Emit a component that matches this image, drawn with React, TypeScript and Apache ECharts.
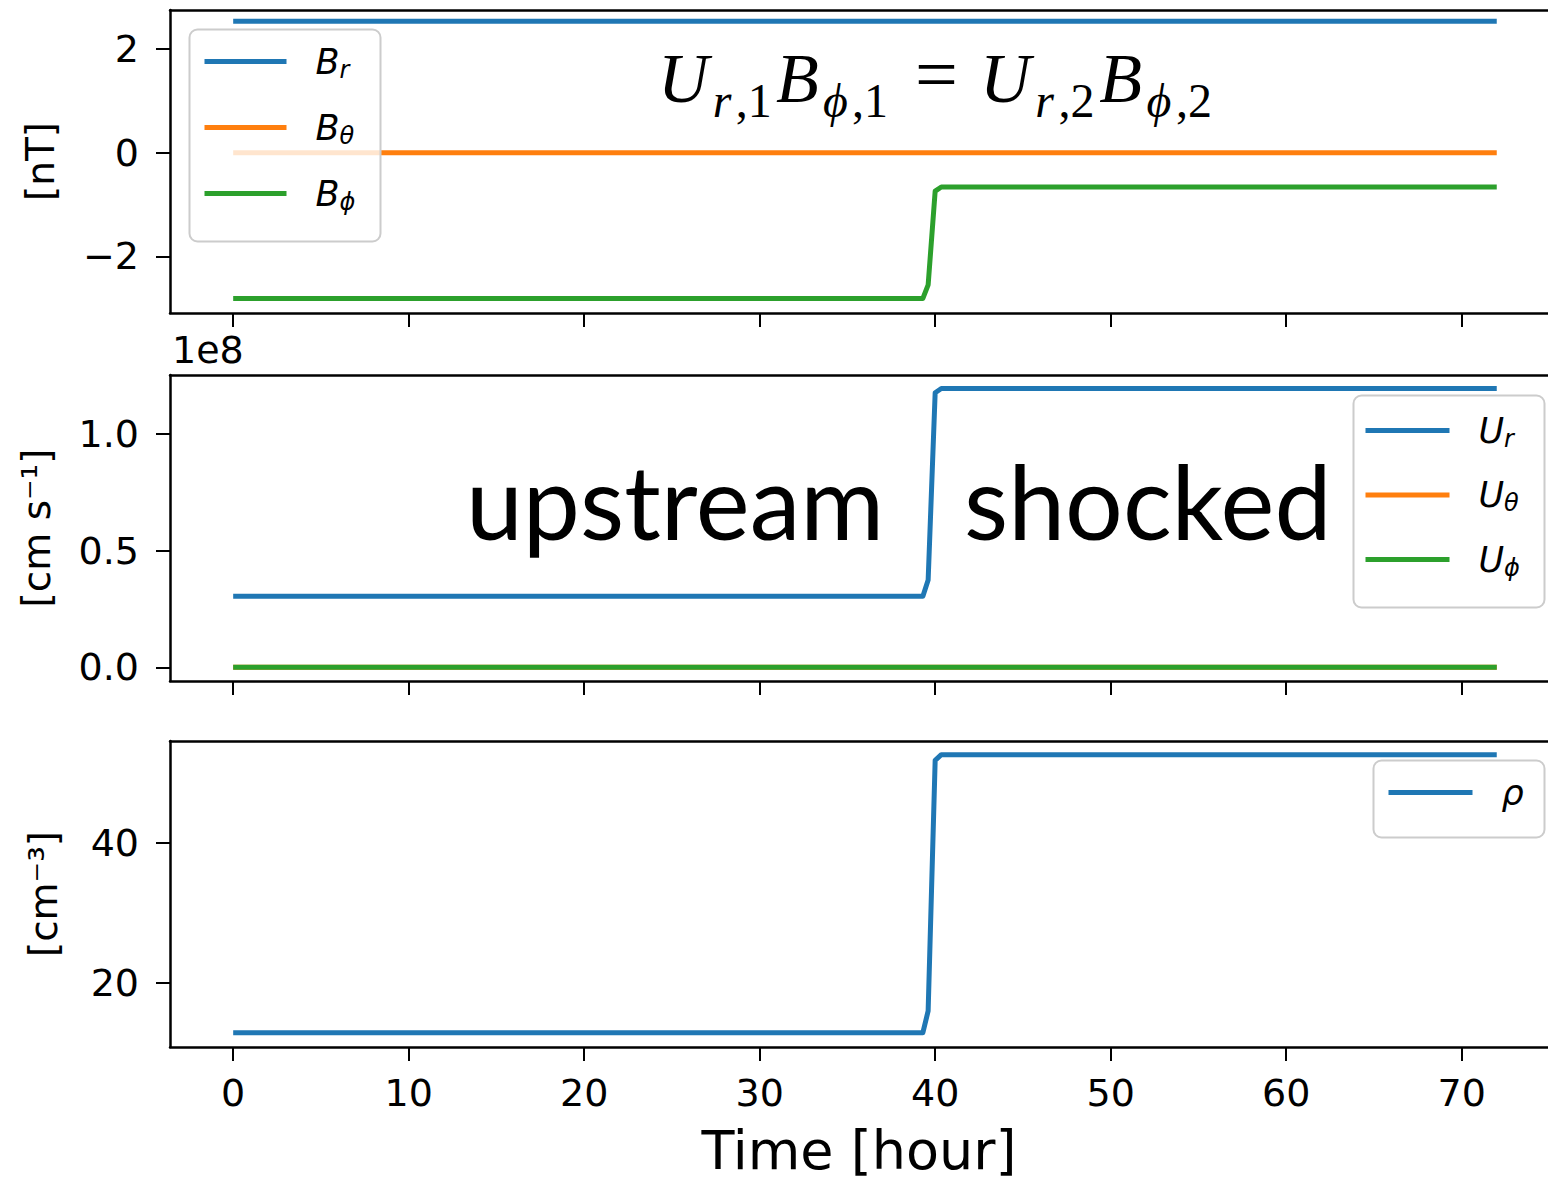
import React, { useEffect, useRef } from "react";
import * as echarts from "echarts";

// ---- data ----
const hours = [0, 39.3, 39.6, 40.0, 40.35, 72];
const Br = [2.54, 2.54, 2.54, 2.54, 2.54, 2.54];
const Btheta = [0, 0, 0, 0, 0, 0];
const Bphi = [-2.81, -2.81, -2.55, -0.74, -0.66, -0.66];
const Ur = [3.05e7, 3.05e7, 3.74e7, 1.177e8, 1.195e8, 1.195e8];
const Utheta = [0, 0, 0, 0, 0, 0];
const Uphi = [0, 0, 0, 0, 0, 0];
const rho = [12.96, 12.96, 16.05, 51.69, 52.5, 52.5];

const xTicks = [0, 10, 20, 30, 40, 50, 60, 70];
const bTicks = [-2, 0, 2];
const uTicks = [0, 5e7, 1e8];
const rhoTicks = [20, 40];

const legendLabels: Record<string, string> = {
  Br: "{b|B}{s|r}",
  Btheta: "{b|B}{s|θ}",
  Bphi: "{b|B}{s|ϕ}",
  Ur: "{b|U}{s|r}",
  Utheta: "{b|U}{s|θ}",
  Uphi: "{b|U}{s|ϕ}",
  rho: "{b|ρ}",
};

const BLUE = "#1f77b4";
const ORANGE = "#ff7f0e";
const GREEN = "#2ca02c";

const zip = (ys: number[]) => hours.map((t, i) => [t, ys[i]]);

const FONT = "DejaVu Sans";
const TICK_FS = 38;

function minusFmt(v: number) {
  return v < 0 ? "\u2212" + Math.abs(v) : String(v);
}

// formula pieces: [text, kind]  kind: M = main italic, s = sub italic, d = sub upright
const formulaLeft: [string, string][] = [["U", "M"], ["r", "s"], [",1", "d"], ["B", "M"], ["ϕ", "s"], [",1", "d"]];
const formulaRight: [string, string][] = [["U", "M"], ["r", "s"], [",2", "d"], ["B", "M"], ["ϕ", "s"], [",2", "d"]];

export default function App() {
  const ref = useRef<HTMLDivElement>(null);
  useEffect(() => {
    if (!ref.current) return;
    const chart = echarts.init(ref.current, undefined, { renderer: "svg" });

    const gridTops = [10, 375, 741];
    const gridHeights = [303, 306, 306];

    const grids = gridTops.map((top, i) => ({
      left: 170,
      top,
      right: 0,
      height: gridHeights[i],
      show: false,
      containLabel: false,
    }));

    const XMIN = -3.6;
    const XMAX = 74.92;
    const axisLine = { show: true, onZero: false, lineStyle: { color: "#000", width: 2.5 } };

    const xAxes: any[] = [0, 1, 2].map((i) => ({
      type: "value",
      gridIndex: i,
      min: XMIN,
      max: XMAX,
      position: "bottom",
      axisLine,
      splitLine: { show: false },
      axisTick: {
        show: true,
        customValues: xTicks,
        length: 14,
        lineStyle: { color: "#000", width: 2 },
      },
      axisLabel: {
        show: i === 2,
        customValues: xTicks,
        margin: 27,
        fontFamily: FONT,
        fontSize: TICK_FS,
        color: "#000",
      },
      name: i === 2 ? "Time [hour]" : "",
      nameLocation: "middle",
      nameGap: 76,
      nameTextStyle: { fontFamily: FONT, fontSize: 54, color: "#000" },
    }));
    // top spines
    [0, 1, 2].forEach((i) => {
      xAxes.push({
        type: "value",
        gridIndex: i,
        min: XMIN,
        max: XMAX,
        position: "top",
        axisLine,
        splitLine: { show: false },
        axisTick: { show: false },
        axisLabel: { show: false },
      });
    });

    const yCommon = (i: number, min: number, max: number, ticks: number[], fmt: (v: number) => string, name: string, nameGap: number) => ({
      type: "value",
      gridIndex: i,
      min,
      max,
      axisLine,
      splitLine: { show: false },
      axisTick: {
        show: true,
        customValues: ticks,
        length: 14,
        lineStyle: { color: "#000", width: 2 },
      },
      axisLabel: {
        customValues: ticks,
        margin: 31,
        fontFamily: FONT,
        fontSize: TICK_FS,
        color: "#000",
        formatter: fmt,
      },
      name,
      nameLocation: "middle",
      nameGap,
      nameTextStyle: { fontFamily: FONT, fontSize: 39, color: "#000" },
    });

    const yAxes = [
      yCommon(0, -3.092, 2.757, bTicks, minusFmt, "[nT]", 110),
      yCommon(1, -5.87e6, 1.253e8, uTicks, (v: number) => (v / 1e8).toFixed(1), "[cm s\u207B\u00B9]", 114),
      yCommon(2, 10.92, 54.44, rhoTicks, (v: number) => String(v), "[cm\u207B\u00B3]", 107),
    ];

    const mk = (name: string, ys: number[], color: string, idx: number) => ({
      type: "line",
      name,
      xAxisIndex: idx,
      yAxisIndex: idx,
      data: zip(ys),
      symbol: "none",
      showSymbol: false,
      color,
      lineStyle: { color, width: 5, cap: "butt", join: "round" },
      z: 2,
    });

    const series = [
      mk("Br", Br, BLUE, 0),
      mk("Btheta", Btheta, ORANGE, 0),
      mk("Bphi", Bphi, GREEN, 0),
      mk("Ur", Ur, BLUE, 1),
      mk("Utheta", Utheta, ORANGE, 1),
      mk("Uphi", Uphi, GREEN, 1),
      mk("rho", rho, BLUE, 2),
    ];

    const richLegend = {
      g: { width: 24, fontSize: 10, lineHeight: 40 },
      b: { fontFamily: FONT, fontStyle: "italic", fontSize: 35, lineHeight: 40, color: "#000" },
      s: { fontFamily: FONT, fontStyle: "italic", fontSize: 24, lineHeight: 18, verticalAlign: "bottom", color: "#000" },
    };

    const legendBase = (data: string[], left: number, top: number, itemWidth: number, itemGap: number) => ({
      data,
      orient: "vertical",
      left,
      top,
      padding: 0,
      itemWidth,
      itemHeight: 14,
      itemGap,
      selectedMode: false,
      z: 4,
      formatter: (n: string) => "{g| }" + legendLabels[n],
      textStyle: { rich: richLegend },
      itemStyle: { opacity: 0 },
      lineStyle: { width: 5 },
    });

    const legends = [
      legendBase(["Br", "Btheta", "Bphi"], 202, 44, 82, 28.5),
      legendBase(["Ur", "Utheta", "Uphi"], 1363, 413, 84, 27),
      legendBase(["rho"], 1386, 775, 84, 20),
    ];

    const boxStyle = { fill: "rgba(255,255,255,0.8)", stroke: "#cccccc", lineWidth: 2 };

    // ---- formula laid out piece by piece ----
    const MAIN_FS = 70;
    const SUB_FS = 48;
    const SERIF = "'Liberation Serif'";
    const fontOf = (k: string) =>
      k === "M" ? `italic ${MAIN_FS}px ${SERIF}` : k === "s" ? `italic ${SUB_FS}px ${SERIF}` : `${SUB_FS}px ${SERIF}`;
    const ctx = document.createElement("canvas").getContext("2d")!;
    const measure = (t: string, f: string) => {
      ctx.font = f;
      return ctx.measureText(t).width;
    };
    const MAIN_BASE = 102;
    const SUB_BASE = 117;
    const CENTRAL = 0.3375; // central baseline offset for Liberation Serif
    const layoutHalf = (pieces: [string, string][], x0: number, x1: number) => {
      const widths = pieces.map(([t, k]) => measure(t, fontOf(k)));
      const total = widths.reduce((a, b) => a + b, 0);
      const gap = (x1 - x0 - total) / (pieces.length - 1);
      let x = x0;
      return pieces.map(([t, k], i) => {
        const fs = k === "M" ? MAIN_FS : SUB_FS;
        const base = k === "M" ? MAIN_BASE : SUB_BASE;
        const el = {
          type: "text",
          z: 5,
          x,
          y: base - CENTRAL * fs,
          style: { text: t, font: fontOf(k), fill: "#000", align: "left", verticalAlign: "middle" },
        };
        x += widths[i] + gap;
        return el;
      });
    };
    const formulaEls = [
      ...layoutHalf(formulaLeft, 658, 888),
      {
        type: "text",
        z: 5,
        x: 936.5,
        y: MAIN_BASE - 4 - CENTRAL * MAIN_FS,
        style: { text: "=", font: `${MAIN_FS + 6}px ${SERIF}`, fill: "#000", align: "center", verticalAlign: "middle" },
      },
      ...layoutHalf(formulaRight, 980, 1212),
    ];

    chart.setOption({
      animation: false,
      backgroundColor: "#fff",
      grid: grids,
      xAxis: xAxes,
      yAxis: yAxes,
      series,
      legend: legends,
      graphic: [
        { type: "rect", z: 3, shape: { x: 189.5, y: 29.5, width: 191, height: 212, r: 8 }, style: boxStyle },
        { type: "rect", z: 3, shape: { x: 1353.5, y: 395.5, width: 191, height: 212, r: 8 }, style: boxStyle },
        { type: "rect", z: 3, shape: { x: 1373.5, y: 760.5, width: 171, height: 77, r: 8 }, style: boxStyle },
        {
          type: "text",
          z: 5,
          x: 172,
          y: 350,
          style: { text: "1e8", font: `${TICK_FS}px '${FONT}'`, fill: "#000", align: "left", verticalAlign: "middle" },
        },
        ...formulaEls,
        {
          type: "text",
          z: 5,
          x: 466,
          y: 500,
          style: { text: "upstream", font: "102px Lato", fill: "#000", align: "left", verticalAlign: "middle" },
        },
        {
          type: "text",
          z: 5,
          x: 964,
          y: 500,
          style: { text: "shocked", font: "102px Lato", fill: "#000", align: "left", verticalAlign: "middle" },
        },
      ],
    });
    return () => chart.dispose();
  }, []);
  return <div ref={ref} style={{ position: "absolute", left: 0, top: 0, width: 1548, height: 1181 }} />;
}
